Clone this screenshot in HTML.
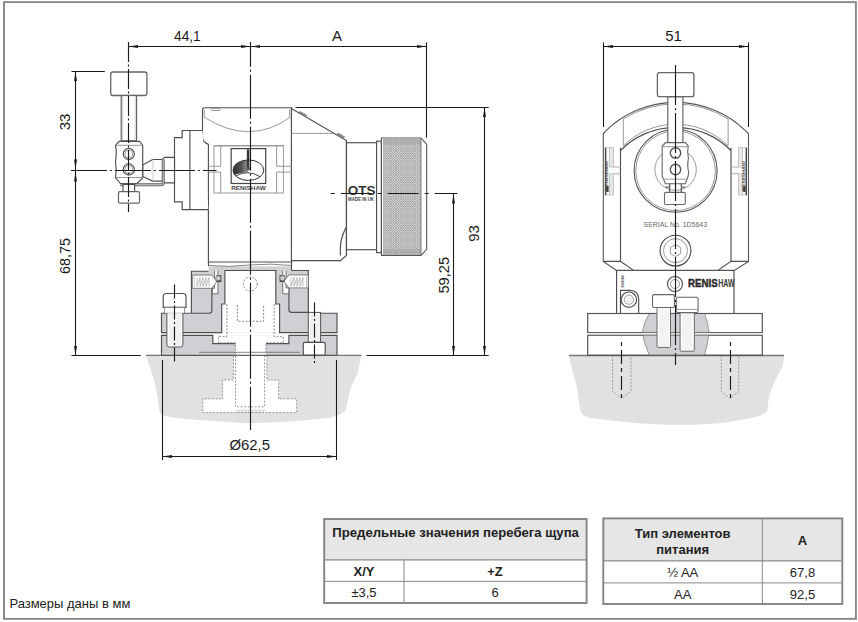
<!DOCTYPE html>
<html><head><meta charset="utf-8">
<style>
html,body{margin:0;padding:0;background:#fff;width:858px;height:622px;overflow:hidden}
svg{display:block;font-family:"Liberation Sans",sans-serif}
.o{fill:none;stroke:#514d4e;stroke-width:1.15}
.ow{fill:#fff;stroke:#514d4e;stroke-width:1.15}
.lt{fill:none;stroke:#999;stroke-width:1}
.d{fill:none;stroke:#1c1a1b;stroke-width:1.1}
.cl{fill:none;stroke:#1c1a1b;stroke-width:1.15}
.hd{fill:none;stroke:#888;stroke-width:1;stroke-dasharray:2 1.5}
.ar{fill:#1c1a1b;stroke:none}
.t{font-size:15px;fill:#1a1a1a}
</style></head><body>
<svg width="858" height="622" viewBox="0 0 858 622">
<defs>
<pattern id="kn" width="2.4" height="2.4" patternUnits="userSpaceOnUse">
<rect width="2.4" height="2.4" fill="#dadada"/>
<path d="M0,0 L2.4,2.4 M2.4,0 L0,2.4" stroke="#8f8f8f" stroke-width="0.55"/>
</pattern>
<linearGradient id="lg" x1="0" x2="1" y1="0" y2="0">
<stop offset="0" stop-color="#2a2a2a"/><stop offset="0.6" stop-color="#555"/><stop offset="1" stop-color="#9a9a9a"/>
</linearGradient>
</defs>
<rect x="4" y="2.1" width="851.9" height="616.75" fill="none" stroke="#8a8788" stroke-width="1.9"/>
<!-- fixture -->
<path d="M146,355.2 L150.4,368.3 L154.8,382.9 L157.7,397.4 L159.1,409.1 Q160,414 162,414.9 L173.7,417.8 Q190,419.5 202.8,420.2 L232,422.2 Q245,423.2 252.4,423.1 L275.7,422.2 L304.8,420.2 L331,417.8 Q343,414 345.6,410.6 L348.5,397.4 L351.4,385.8 L357.3,374.1 L361.6,355.2 Z" fill="#e2e0e0" stroke="none"/>
<line x1="146" y1="355.4" x2="361.6" y2="355.4" stroke="#777" stroke-width="1.4"/>
<path d="M233.4,355.5 V380 H222.7 V398.9 H202.8 V412.6 H296.7 V398.9 H278.6 V380 H266.9 V355.5 Z" fill="#fff" stroke="#999" stroke-width="1" stroke-dasharray="2 1.5"/>
<path d="M235.5,356 V406.8 H264.6 V356" fill="none" stroke="#999" stroke-width="1" stroke-dasharray="2 1.5"/>
<path d="M236.0,413 l2.2,-3.6 M238.2,413 l2.2,-3.6 M240.4,413 l2.2,-3.6 M242.6,413 l2.2,-3.6 M244.8,413 l2.2,-3.6 M247.0,413 l2.2,-3.6 M249.2,413 l2.2,-3.6 M251.4,413 l2.2,-3.6 M253.6,413 l2.2,-3.6 M255.8,413 l2.2,-3.6 M258.0,413 l2.2,-3.6 M260.2,413 l2.2,-3.6 M262.4,413 l2.2,-3.6" stroke="#aaa" stroke-width="0.7"/>
<!-- lower section (left view) -->
<path d="M191.4,271.2 H208.5 V266.3 H291.5 V270.5 H308.3 V313.2 H337 V355 H161.5 V313.2 H191.4 Z" fill="#cfd0d3" stroke="none"/>
<!-- white cutouts -->
<path d="M224.9,270.5 H275.8 V304 H279.6 V332.6 H221.7 V304 H224.9 Z" fill="#fff"/>
<rect x="161.5" y="332.6" width="175.5" height="2.7" fill="#fff"/>
<path d="M212.8,335.3 H288.9 V343.6 H266 V355 H235.4 V343.6 H212.8 Z" fill="#fff"/>
<!-- main outline of section -->
<path d="M191.4,313.2 V271.2 H208.5 M291.5,270.5 H308.3 V313.2 H337 V332.6 H279.6 V304 H275.8 V270.5 H224.9 V304 H221.7 V332.6 H161.5 V313.2 H191.4" class="o"/>
<path d="M235.4,343.6 H212.8 V335.3 H161.5 V355.2 H337 V335.3 H288.9 V343.6 H266" class="o"/>
<line x1="199" y1="352.3" x2="300" y2="352.3" stroke="#666" stroke-width="0.8"/>
<path d="M211.9,288.3 V310.5 Q211.9,313.2 209.2,313.2 H191.4 M288.9,287.9 V309.5 Q288.9,312.4 291.8,312.4 H308.3" class="o"/>
<!-- L channels -->
<path d="M214.6,270.8 V288.3 H212.4 V293.8 H217.9 V270.8" fill="#fff" stroke="#555" stroke-width="0.8"/>
<path d="M286,270.8 V287.9 H288.9 V293.8 H282.8 V270.8" fill="#fff" stroke="#555" stroke-width="0.8"/>
<!-- threaded holes -->
<path d="M192.3,275.1 H211.9 L216.8,281.6 L211.9,288.3 H192.3 Z" fill="#fff" stroke="#666" stroke-width="0.8"/>
<path d="M308.3,274.9 H288.9 L284,281.4 L288.9,287.9 H308.3 Z" fill="#fff" stroke="#666" stroke-width="0.8"/>
<path d="M194.2,276.5 V287 M197.0,277.5 V286.5 L200.0,277.5 V286.5 L203.0,277.5 V286.5 L206.0,277.5 V286.5 L209.0,277.5 V286.5" fill="none" stroke="#999" stroke-width="0.6"/>
<path d="M306.5,276.5 V287 M291.0,277.5 V286.5 L294.0,277.5 V286.5 L297.0,277.5 V286.5 L300.0,277.5 V286.5 L303.0,277.5 V286.5" fill="none" stroke="#999" stroke-width="0.6"/>
<rect x="216.4" y="275.2" width="5" height="6.8" fill="#444"/>
<rect x="279.6" y="275.2" width="5" height="6.8" fill="#444"/>
<circle cx="218.3" cy="278.2" r="2.6" fill="#ccc" stroke="#555" stroke-width="0.6"/>
<circle cx="282.4" cy="278.2" r="2.6" fill="#ccc" stroke="#555" stroke-width="0.6"/>
<!-- hidden lines -->
<g class="hd">
<path d="M226.9,304 V336.7 H218.3 V342.8 H235.4 V355 M274.1,304 V336.7 H283.2 V342.8 H266 V355"/>
<path d="M237.4,304.9 V321.3 H263.6 V304.9"/>
<circle cx="250.3" cy="284" r="7"/>
</g>
<!-- left bolt -->
<path d="M163.2,307.3 V296.5 Q163.2,293.5 166.2,293.5 H183 Q186,293.5 186,296.5 V307.3 Z" class="ow"/>
<rect x="164.3" y="307.3" width="20.3" height="5.9" fill="#fff" stroke="#666" stroke-width="0.7"/>
<path d="M166.9,313.2 V344.5 Q166.9,347 169.4,347 H180.4 Q182.9,347 182.9,344.5 V313.2" fill="#fff" stroke="#555"/>
<path d="M170,314 V345 M172,314 V345 M174,314 V346 M176,314 V346 M178,314 V345 M180,314 V345" stroke="#d0d0d0" stroke-width="0.6"/>
<!-- right bolt -->
<rect x="308.3" y="312.4" width="12.3" height="30" fill="#fff" stroke="#555"/>
<path d="M311,313 V342 M313,313 V342 M315,313 V342 M317,313 V342 M319,313 V342" stroke="#d0d0d0" stroke-width="0.6"/>
<rect x="303.3" y="342.4" width="21.9" height="12.6" rx="1.5" class="ow"/>
<!-- main body -->
<path d="M208.4,262 H291.5 V266.3 H208.5 Z" fill="#fff"/>
<path d="M208.5,262 V266.3 M291.5,262 V270.5" class="o"/>
<path d="M208.5,265.5 Q230,267.5 250,265 Q270,263 291.5,265.5" fill="none" stroke="#777" stroke-width="0.9"/>
<path d="M204.5,107.7 H291.6 V262 H208.4 V144.4 Q202.5,142 202.5,137 V110 Q202.5,107.7 204.5,107.7 Z" class="ow"/>
<path d="M204.3,110 V117.4 Q250,146 290,117.4" class="lt"/>
<rect x="211.4" y="108.5" width="8.8" height="2" rx="1" class="lt"/>
<!-- angled part -->
<path d="M291.4,108.6 L346.4,140.6 V255.5 L340.5,260.6 H291.4 Z" class="ow"/>
<line x1="291.4" y1="133.4" x2="333.5" y2="133.4" class="lt"/>
<path d="M299.4,111.9 L306.6,116 M337.3,133.5 L344.5,137.6" stroke="#8a8687" stroke-width="2.2"/>
<path d="M289.6,109.5 V117.6" class="lt"/>
<path d="M340.5,255.5 Q339,240 346,227.6" class="o"/>
<!-- flange left -->
<path d="M202.5,130.5 H182.2 V137.6 H174.5 V201.9 H182.2 V209.6 H208.4" class="ow"/>
<line x1="189.9" y1="130.5" x2="189.9" y2="209.6" class="o"/>
<!-- window -->
<rect x="214" y="145.5" width="69.4" height="47.5" class="lt"/>
<line x1="214" y1="146.6" x2="283.4" y2="146.6" stroke="#ccc" stroke-width="1"/>
<path d="M220.7,145.5 V166.3 M220.7,172.1 V193 M276.6,145.5 V166.3 M276.6,172.1 V193" class="lt"/>
<path d="M208.4,166.3 H220.7 M208.4,172.1 H220.7 M276.6,166.3 H291.6 M276.6,172.1 H291.6" class="lt"/>
<rect x="231.2" y="148.6" width="34.5" height="34.9" fill="#fff" stroke="#444" stroke-width="1.2"/>
<clipPath id="elc"><ellipse cx="248.4" cy="170.2" rx="15.4" ry="10.25"/></clipPath>
<g clip-path="url(#elc)">
<rect x="232" y="159" width="16" height="22" fill="url(#lg)"/>
<path d="M233,181 V176 Q248,168 263.8,177 V181 Z" fill="#fff"/>
</g>
<ellipse cx="248.4" cy="170.2" rx="15.4" ry="10.25" fill="none" stroke="#333" stroke-width="1"/>
<path d="M235.6,176 Q248,169 260.2,176.8" fill="none" stroke="#333" stroke-width="0.9"/>
<path d="M248.1,149.4 V167.9" stroke="#333" stroke-width="2.5"/>
<circle cx="248.3" cy="168.6" r="1.8" fill="#555"/>
<text x="248.5" y="190.1" font-size="5.8" font-weight="bold" fill="#444" text-anchor="middle" textLength="34.6" lengthAdjust="spacingAndGlyphs">RENISHAW</text>
<!-- neck / knob -->
<rect x="346.5" y="142.7" width="30.5" height="107" class="ow"/>
<rect x="376.6" y="141.2" width="4.8" height="111.4" class="ow"/>
<path d="M381.4,138 H421 L426.7,144.5 V249.3 L421,255.4 H381.4 Z" fill="#fff" stroke="#555" stroke-width="1.1"/>
<rect x="383" y="138.6" width="38" height="116.2" fill="url(#kn)"/>
<rect x="383" y="138.6" width="38" height="6" fill="#999" opacity="0.35"/>
<rect x="383" y="248.8" width="38" height="6" fill="#999" opacity="0.35"/>
<line x1="421" y1="138" x2="421" y2="255.4" stroke="#666" stroke-width="0.8"/>
<text x="361.6" y="195.3" font-size="13.5" font-weight="bold" fill="#333" text-anchor="middle">OTS</text>
<text x="361" y="201.2" font-size="4.8" font-weight="bold" fill="#444" text-anchor="middle" textLength="26" lengthAdjust="spacingAndGlyphs">MADE IN UK</text>
<!-- stylus -->
<rect x="110.7" y="72" width="36.2" height="23.5" rx="2.2" fill="#fff" stroke="#666" stroke-width="1.3"/>
<rect x="121.2" y="95.5" width="15.4" height="45.3" fill="#fff" stroke="#666" stroke-width="1.2"/>
<path d="M122.6,96 V140 M135.2,96 V140" stroke="#bbb" stroke-width="0.7"/>
<path d="M142.7,164.9 L152.6,159.5 H162.2 L164.6,157.4 H174.5 V182.9 H164.6 L162,181.1 H152.6 L142.7,176.5 Z" class="ow"/>
<line x1="153" y1="159.5" x2="153" y2="181.1" stroke="#ccc" stroke-width="1"/>
<path d="M119.1,141.3 H139.6 L142.7,145.1 V177.9 L137,183.5 H120.4 L115.5,177.5 Q117,170 115.5,162 Q117,152 115.5,145.5 Z" class="ow"/>
<path d="M116,145.3 H142.5 M116,177.5 H142.5" class="lt"/>
<circle cx="128.8" cy="154" r="5.6" class="o"/>
<circle cx="128.8" cy="154" r="4" class="lt"/>
<circle cx="128.8" cy="169.5" r="5.6" class="o"/>
<circle cx="128.8" cy="169.5" r="4" class="lt"/>
<path d="M120.4,184.7 H161.2 Q163.2,184.7 163.2,182.7 V159.4" fill="none" stroke="#5f5f62" stroke-width="3"/>
<path d="M120.4,184.7 H161.2 Q163.2,184.7 163.2,182.7 V159.4" fill="none" stroke="#b0b4b8" stroke-width="1.4"/>
<rect x="123" y="184.5" width="11.6" height="7.1" class="ow"/>
<rect x="118.5" y="191.6" width="21" height="11.6" rx="1.5" fill="#fff" stroke="#666" stroke-width="1.2"/>
<!-- fixture -->
<path d="M568.9,355.6 L571.9,367.9 L574.8,379.5 L577.7,391.2 L579.1,402.8 L580.6,411.6 Q583,416 587.9,417.4 L608.3,420.3 L637.4,423.2 L666.6,424.7 L695.7,424.7 L724.8,422.7 L754,417.4 Q764,414 767.1,411.6 L768.5,399.9 L771.4,388.3 L777.3,376.6 L783.1,365 L784,355.6 Z" fill="#e2e0e0" stroke="none"/>
<line x1="568.9" y1="355.5" x2="784" y2="355.5" stroke="#777" stroke-width="1.4"/>
<path d="M612.6,355.5 V391.2 L621.8,398.5 L631,391.2 V355.5" fill="none" stroke="#999" stroke-dasharray="2 1.5"/>
<path d="M721.3,355.5 V391.2 L730,398.5 L738.8,391.2 V355.5" fill="none" stroke="#999" stroke-dasharray="2 1.5"/>
<!-- plates -->
<rect x="587.7" y="313.5" width="174.6" height="19.1" class="ow"/>
<rect x="587.7" y="335.1" width="174.6" height="20.2" class="ow"/>
<path d="M649.3,313.5 Q644,322 642.2,332 Q644,343 649.3,355.3 H704.6 Q708,343 709.1,332 Q708,322 704.6,313.5 Z" fill="#cfd0d3" stroke="#666" stroke-width="0.6"/>
<rect x="587.7" y="332.6" width="174.6" height="2.5" fill="#fff"/>
<path d="M587.7,332.6 H762.3 M587.7,335.1 H762.3" stroke="#555" stroke-width="0.9"/>
<path d="M587.7,313.5 H762.3 M587.7,355.3 H762.3" stroke="#555" stroke-width="1.1"/>
<!-- bolts -->
<rect x="657" y="307.5" width="13.5" height="39.9" rx="1" fill="#fff" stroke="#666" stroke-width="1"/>
<path d="M660,309 V346 M662,309 V346 M664,309 V346 M666,309 V346 M668,309 V346" stroke="#d4d4d4" stroke-width="0.6"/>
<rect x="652.5" y="294.6" width="21.9" height="12.9" rx="1.5" fill="#fff" stroke="#666" stroke-width="1.1"/>
<rect x="680.1" y="312.6" width="14.2" height="38.6" rx="1" fill="#fff" stroke="#666" stroke-width="1"/>
<path d="M683,314 V350 M685,314 V350 M687,314 V350 M689,314 V350 M691,314 V350" stroke="#d4d4d4" stroke-width="0.6"/>
<rect x="676.3" y="297.2" width="21.8" height="15.4" rx="1.5" fill="#fff" stroke="#666" stroke-width="1.1"/>
<line x1="676.3" y1="309.4" x2="698.1" y2="309.4" class="lt"/>
<!-- lower block -->
<path d="M616.6,270.4 V313.5 M734,270.4 V313.5" class="o"/>
<path d="M620.5,313.5 V290.3 H630.5 A8.2,8.2 0 0 1 638.7,298.5 V313.5" class="o"/>
<circle cx="628.9" cy="299.7" r="7.7" class="o"/>
<circle cx="628.9" cy="299.7" r="4.6" class="lt"/>
<circle cx="628.9" cy="299.7" r="2" fill="none" stroke="#ccc" stroke-width="0.8"/>
<circle cx="675" cy="284" r="7.5" class="o"/>
<circle cx="675" cy="284" r="4.5" class="lt"/>
<text x="688" y="287.3" font-size="10.3" font-weight="bold" fill="#2e2b2c" stroke="#2e2b2c" stroke-width="0.45" textLength="29.6" lengthAdjust="spacingAndGlyphs">RENIS</text><text x="718.2" y="287.3" font-size="10.3" font-weight="bold" fill="#3a3738" textLength="16.5" lengthAdjust="spacingAndGlyphs">HAW</text>
<text transform="translate(623.5,281.5) rotate(-90)" font-size="3.8" font-weight="bold" fill="#444" text-anchor="middle" textLength="12" lengthAdjust="spacingAndGlyphs">RENISHAW</text>
<!-- body -->
<path d="M603.3,261.4 V133.8 L606,130.7 A100,100 0 0 1 745.4,130.7 L748.5,133.8 V261.4 L734.3,270.4 H616.5 Z" fill="#fff" stroke="#555" stroke-width="1.1"/>
<path d="M603.3,261.4 H620.5 L633.6,270.4 M748.5,261.4 H731 L718,270.4" class="o"/>
<path d="M623.3,119 A98.5,98.5 0 0 1 728.1,119" class="lt"/>
<path d="M623.3,119 V145.8 M728.1,119 V145.8" class="lt"/>
<path d="M620.5,147.7 V261.4 M731,147.7 V261.4" class="o"/>
<path d="M620.5,150.5 A77.5,77.5 0 0 1 730.9,150.5" class="o"/>
<path d="M623.3,145.8 A74.4,74.4 0 0 1 728.1,145.8" class="lt"/>
<!-- side panels -->
<rect x="609.6" y="147.5" width="3.8" height="19.5" fill="#e6e6e6" stroke="#bbb" stroke-width="0.8"/>
<rect x="609.6" y="173.8" width="3.8" height="21.2" fill="#e6e6e6" stroke="#bbb" stroke-width="0.8"/>
<rect x="738.6" y="147.5" width="3.8" height="19.5" fill="#e6e6e6" stroke="#bbb" stroke-width="0.8"/>
<rect x="738.6" y="173.8" width="3.8" height="21.2" fill="#e6e6e6" stroke="#bbb" stroke-width="0.8"/>
<path d="M603.3,147.5 H609.6 M603.3,195 H609.6 M742.4,147.5 H748.5 M742.4,195 H748.5" stroke="#bbb" stroke-width="0.8"/>
<path d="M613.4,167 H620.5 M613.4,173.8 H620.5 M731,167 H738.6 M731,173.8 H738.6" stroke="#aaa" stroke-width="1"/>
<path d="M605.6,148 V195 M746.3,148 V195" stroke="#4a4a4a" stroke-width="1.5"/>
<text transform="translate(607.8,176) rotate(-90)" font-size="3.6" font-weight="bold" fill="#555" text-anchor="middle" textLength="30" lengthAdjust="spacingAndGlyphs">RENISHAW</text>
<text transform="translate(745.3,176) rotate(-90)" font-size="3.6" font-weight="bold" fill="#555" text-anchor="middle" textLength="30" lengthAdjust="spacingAndGlyphs">RENISHAW</text>
<rect x="606.2" y="186" width="2.4" height="6" fill="#444"/>
<rect x="743.2" y="186" width="2.4" height="6" fill="#444"/>
<!-- big circle -->
<circle cx="675.6" cy="170.8" r="41.5" fill="none" stroke="#555" stroke-width="1.1"/>
<circle cx="675.6" cy="170.8" r="39.8" class="lt"/>
<circle cx="675.6" cy="169.6" r="20.7" class="lt"/>
<text x="675.3" y="227.4" font-size="7.8" fill="#666" text-anchor="middle" textLength="63.5" lengthAdjust="spacingAndGlyphs">SERIAL  No.  1D5643</text>
<circle cx="675.5" cy="250.6" r="15.4" fill="#fff" stroke="#444" stroke-width="1.1"/>
<circle cx="675.5" cy="250.6" r="12" class="lt"/>
<path d="M675.5,244.6 l5.2,3 v6 l-5.2,3 l-5.2,-3 v-6 z" class="lt"/>
<!-- stylus -->
<rect x="667.8" y="96.7" width="15.1" height="46" fill="#fff" stroke="#666" stroke-width="1.2"/>
<rect x="657.4" y="72.7" width="36.5" height="24" rx="2.2" fill="#fff" stroke="#666" stroke-width="1.3"/>
<path d="M665.6,142.6 H685.5 L688.2,146 Q687,152 688.4,158 Q687,166 688.6,172 L688.2,176 L685.3,183.7 H665.4 L662.2,176 V146 Z" fill="#fff" stroke="#666" stroke-width="1.1"/>
<path d="M662.6,146.7 H688 M662.6,179.1 H688" class="lt"/>
<circle cx="675.5" cy="153" r="5.2" fill="none" stroke="#555" stroke-width="1.4"/>
<circle cx="675.5" cy="169.5" r="5.2" fill="none" stroke="#555" stroke-width="1.4"/>
<path d="M669.7,183.7 V192.4 M681.3,183.7 V192.4" class="o"/>
<path d="M665,187.2 H669.7 M681.3,187.2 H685.3" stroke="#777" stroke-width="1.4"/>
<rect x="664.5" y="192.4" width="20.8" height="12.1" rx="1.5" fill="#fff" stroke="#666" stroke-width="1.1"/>
<g id="ldims">
<line x1="128.5" y1="46.5" x2="426.5" y2="46.5" class="d"/>
<path class="ar" d="M128.5,46.5 l9.5,-1.45 v2.9z M250.5,46.5 l-9.5,-1.45 v2.9z M250.5,46.5 l9.5,-1.45 v2.9z M426.5,46.5 l-9.5,-1.45 v2.9z"/>
<line x1="426.5" y1="42.4" x2="426.5" y2="137.7" class="d"/>
<line x1="128.5" y1="42" x2="128.5" y2="212" class="cl" stroke-dasharray="20 2.5 2 2.5"/>
<line x1="250.5" y1="42" x2="250.5" y2="430" class="cl" stroke-dasharray="44 3 2 3" stroke-dashoffset="19.3"/>
<text x="187.4" y="41" class="t" text-anchor="middle" textLength="26.7" lengthAdjust="spacingAndGlyphs">44,1</text>
<text x="337" y="41" class="t" text-anchor="middle">A</text>
<line x1="174.5" y1="284.5" x2="174.5" y2="363.6" class="cl" stroke-dasharray="14 2.5 2 2.5"/>
<line x1="314.5" y1="302.4" x2="314.5" y2="363.6" class="cl" stroke-dasharray="14 2.5 2 2.5"/>
<!-- 33 -->
<line x1="71.5" y1="71.5" x2="104.8" y2="71.5" class="d"/>
<line x1="75.5" y1="71.5" x2="75.5" y2="355.5" class="d"/>
<path class="ar" d="M75.5,71.5 l-1.45,9.5 h2.9z M75.5,169 l-1.45,-9.5 h2.9z M75.5,172 l-1.45,9.5 h2.9z M75.5,355.5 l-1.45,-9.5 h2.9z"/>
<line x1="70.9" y1="170.5" x2="216.5" y2="170.5" class="cl" stroke-dasharray="36 3 2 3"/>
<text transform="translate(69.6,122) rotate(-90)" class="t" text-anchor="middle">33</text>
<text transform="translate(69.8,256.1) rotate(-90)" class="t" text-anchor="middle" textLength="36" lengthAdjust="spacingAndGlyphs">68,75</text>
<!-- bottom line -->
<line x1="71.5" y1="355.5" x2="140.7" y2="355.5" class="d"/>
<line x1="366.4" y1="355.5" x2="488.7" y2="355.5" class="d"/>
<!-- 93 -->
<line x1="295.6" y1="107.5" x2="488.7" y2="107.5" class="d"/>
<line x1="484.5" y1="107.5" x2="484.5" y2="355.5" class="d"/>
<path class="ar" d="M484.5,107.5 l-1.45,9.5 h2.9z M484.5,355.5 l-1.45,-9.5 h2.9z"/>
<text transform="translate(478.6,233.4) rotate(-90)" class="t" text-anchor="middle">93</text>
<!-- 59,25 -->
<line x1="330.7" y1="193.5" x2="457.4" y2="193.5" class="d" stroke-dasharray="4 6 31 6"/>
<line x1="453.5" y1="193.5" x2="453.5" y2="355.5" class="d"/>
<path class="ar" d="M453.5,194 l-1.45,9.5 h2.9z M453.5,355.5 l-1.45,-9.5 h2.9z"/>
<text transform="translate(448.6,275.2) rotate(-90)" class="t" text-anchor="middle" textLength="36.8" lengthAdjust="spacingAndGlyphs">59,25</text>
<!-- diameter -->
<line x1="162.5" y1="360" x2="162.5" y2="460" class="d"/>
<line x1="336.5" y1="360" x2="336.5" y2="460" class="d"/>
<line x1="162.5" y1="456.5" x2="336.5" y2="456.5" class="d"/>
<path class="ar" d="M162.5,456.5 l9.5,-1.45 v2.9z M336.5,456.5 l-9.5,-1.45 v2.9z"/>
<text x="249.7" y="450" class="t" text-anchor="middle" textLength="40.6" lengthAdjust="spacingAndGlyphs">Ø62,5</text>
</g>
<g id="rdims">
<line x1="603.5" y1="42.4" x2="603.5" y2="127" class="d"/>
<line x1="748.5" y1="42.4" x2="748.5" y2="127" class="d"/>
<line x1="603.5" y1="46.5" x2="748.5" y2="46.5" class="d"/>
<path class="ar" d="M603.5,46.5 l9.5,-1.45 v2.9z M748.5,46.5 l-9.5,-1.45 v2.9z"/>
<text x="673.6" y="41.1" class="t" text-anchor="middle">51</text>
<line x1="675.5" y1="65" x2="675.5" y2="365" class="cl" stroke-dasharray="40 3 2 3"/>
<line x1="621.5" y1="342" x2="621.5" y2="401.4" class="cl" stroke-dasharray="4 4 14 4"/>
<line x1="730.5" y1="342" x2="730.5" y2="401.4" class="cl" stroke-dasharray="4 4 14 4"/>
</g>
<g id="tables" font-size="13" fill="#222">
<rect x="324.5" y="519" width="262" height="40.8" fill="#e6e6e6"/>
<rect x="324.2" y="519" width="262.4" height="84" fill="none" stroke="#868384" stroke-width="1.9"/>
<line x1="324.5" y1="559.8" x2="586.5" y2="559.8" stroke="#888" stroke-width="1.2"/>
<line x1="324.5" y1="581.4" x2="586.5" y2="581.4" stroke="#888" stroke-width="1"/>
<line x1="404" y1="559.8" x2="404" y2="603" stroke="#888" stroke-width="1"/>
<text x="455.6" y="536.7" font-weight="bold" text-anchor="middle" textLength="246.6" lengthAdjust="spacingAndGlyphs">Предельные значения перебега щупа</text>
<text x="364" y="575.8" font-weight="bold" text-anchor="middle">X/Y</text>
<text x="495" y="575.8" font-weight="bold" text-anchor="middle">+Z</text>
<text x="364" y="597.3" text-anchor="middle">±3,5</text>
<text x="495" y="597.3" text-anchor="middle">6</text>
<rect x="603.3" y="518.4" width="239" height="42.5" fill="#e6e6e6"/>
<rect x="603.3" y="518.4" width="239" height="85.6" fill="none" stroke="#868384" stroke-width="1.9"/>
<line x1="603.3" y1="560.9" x2="842.3" y2="560.9" stroke="#888" stroke-width="1.2"/>
<line x1="603.3" y1="582.9" x2="842.3" y2="582.9" stroke="#888" stroke-width="1"/>
<line x1="762.3" y1="518.4" x2="762.3" y2="604" stroke="#888" stroke-width="1"/>
<text x="682.7" y="538.3" font-weight="bold" text-anchor="middle">Тип элементов</text>
<text x="682.7" y="553.5" font-weight="bold" text-anchor="middle">питания</text>
<text x="802.5" y="545.3" font-weight="bold" text-anchor="middle">A</text>
<text x="682.7" y="577.3" text-anchor="middle">½ AA</text>
<text x="802.5" y="577.3" text-anchor="middle">67,8</text>
<text x="682.7" y="598.7" text-anchor="middle">AA</text>
<text x="802.5" y="598.7" text-anchor="middle">92,5</text>
</g>
<text x="9.4" y="608" font-size="13" fill="#222">Размеры даны в мм</text>
</svg>
</body></html>
